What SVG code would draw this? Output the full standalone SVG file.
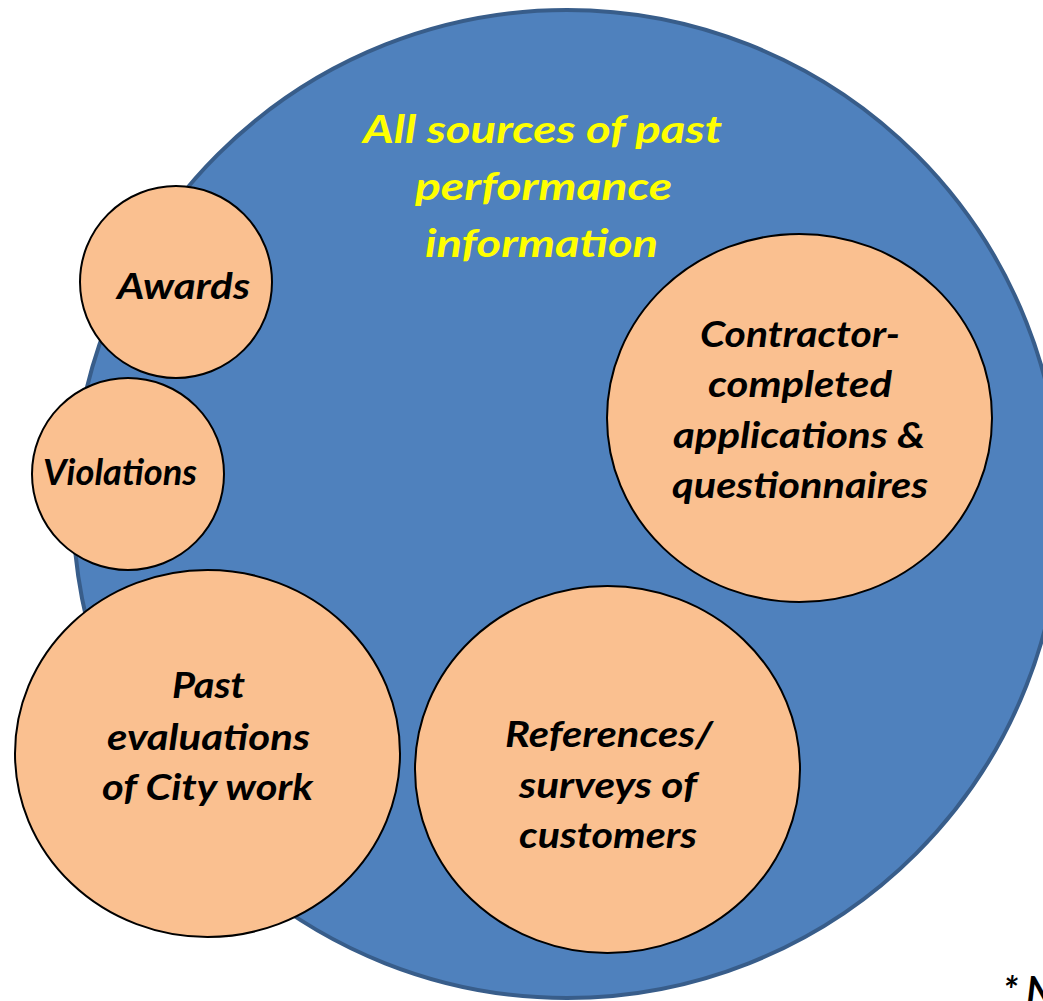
<svg xmlns="http://www.w3.org/2000/svg" width="1043" height="1001" viewBox="0 0 1043 1001">
<style>
.big{fill:#4F81BD;stroke:#385D8A;stroke-width:4}
.node{fill:#FAC090;stroke:#000;stroke-width:2}
.lbl{font-family:Lato,"Open Sans","Liberation Sans",sans-serif;font-weight:bold;font-style:italic;font-size:36px;fill:#000;text-anchor:middle}
.title{font-family:Lato,"Open Sans","Liberation Sans",sans-serif;font-weight:bold;font-style:italic;font-size:39px;fill:#FFFF00;text-anchor:middle}
</style>
<rect width="1043" height="1001" fill="#fff"/>
<g id="all-sources">
<circle class="big" cx="567" cy="504" r="494"/>
<text class="title" x="542.5" y="143" textLength="359" lengthAdjust="spacingAndGlyphs">All sources of past</text>
<text class="title" x="543.5" y="200" textLength="257" lengthAdjust="spacingAndGlyphs">performance</text>
<text class="title" x="541.5" y="257" textLength="233" lengthAdjust="spacingAndGlyphs">information</text>
</g>
<g id="awards">
<circle class="node" cx="176" cy="282" r="96"/>
<text class="lbl" x="183.5" y="299" textLength="133" lengthAdjust="spacingAndGlyphs">Awards</text>
</g>
<g id="violations">
<circle class="node" cx="128" cy="474" r="96"/>
<text class="lbl" x="120" y="485" textLength="154" lengthAdjust="spacingAndGlyphs">Violations</text>
</g>
<g id="past-evaluations">
<ellipse class="node" cx="207.5" cy="753.5" rx="192.5" ry="183.5"/>
<text class="lbl" x="208.5" y="698" textLength="73" lengthAdjust="spacingAndGlyphs">Past</text>
<text class="lbl" x="208.5" y="750" textLength="203" lengthAdjust="spacingAndGlyphs">evaluations</text>
<text class="lbl" x="207.5" y="800" textLength="211" lengthAdjust="spacingAndGlyphs">of City work</text>
</g>
<g id="references">
<ellipse class="node" cx="607.5" cy="769.5" rx="192.5" ry="183.5"/>
<text class="lbl" x="609" y="747" textLength="208" lengthAdjust="spacingAndGlyphs">References/</text>
<text class="lbl" x="608" y="798" textLength="178" lengthAdjust="spacingAndGlyphs">surveys of</text>
<text class="lbl" x="608" y="848" textLength="178" lengthAdjust="spacingAndGlyphs">customers</text>
</g>
<g id="contractor">
<ellipse class="node" cx="799.5" cy="418" rx="192.5" ry="184"/>
<text class="lbl" x="800" y="347" textLength="200" lengthAdjust="spacingAndGlyphs">Contractor-</text>
<text class="lbl" x="800" y="397" textLength="184" lengthAdjust="spacingAndGlyphs">completed</text>
<text class="lbl" x="799" y="448" textLength="252" lengthAdjust="spacingAndGlyphs">applications &amp;</text>
<text class="lbl" x="800" y="498" textLength="256" lengthAdjust="spacingAndGlyphs">questionnaires</text>
</g>
<g id="connectors"></g>
<text x="1003" y="1004" style="font-family:Lato,'Open Sans','Liberation Sans',sans-serif;font-weight:bold;font-style:italic;font-size:38px;fill:#000">* N</text>
</svg>
